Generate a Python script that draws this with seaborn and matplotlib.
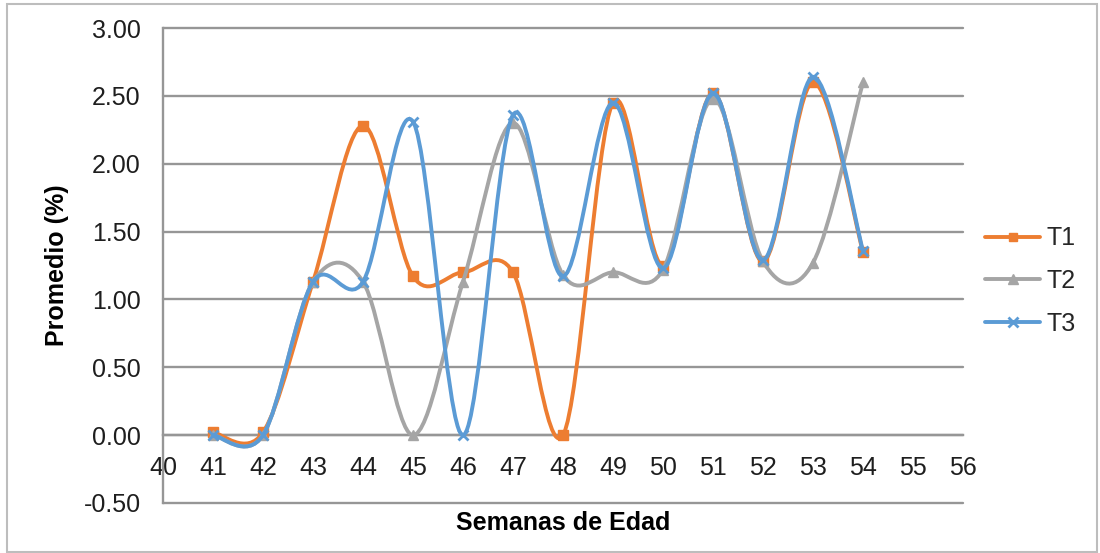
import numpy as np
import pandas as pd
import matplotlib
matplotlib.use("Agg")
import matplotlib.pyplot as plt
from matplotlib.path import Path
from matplotlib.patches import PathPatch, Rectangle
from matplotlib.lines import Line2D
import seaborn as sns

# ---- data ----
semanas = [41, 42, 43, 44, 45, 46, 47, 48, 49, 50, 51, 52, 53, 54]
t1 = [0.02, 0.02, 1.13, 2.28, 1.17, 1.20, 1.20, 0.00, 2.45, 1.25, 2.52, 1.28, 2.60, 1.35]
t2 = [0.00, 0.00, 1.13, 1.13, 0.00, 1.13, 2.30, 1.18, 1.20, 1.22, 2.48, 1.28, 1.27, 2.60]
t3 = [0.00, 0.00, 1.13, 1.13, 2.31, 0.00, 2.36, 1.17, 2.45, 1.23, 2.52, 1.29, 2.64, 1.36]
series_names = ["T1", "T2", "T3"]
x_ticks = list(range(40, 57))
y_ticks = [-0.5, 0.0, 0.5, 1.0, 1.5, 2.0, 2.5, 3.0]

df = pd.DataFrame({
    "Semana": semanas * 3,
    "Valor": t1 + t2 + t3,
    "Serie": sum([[n] * len(semanas) for n in series_names], []),
})

colors = {"T1": "#ED7D31", "T2": "#A5A5A5", "T3": "#5B9BD5"}
markers = {"T1": "s", "T2": "^", "T3": "x"}
msizes = {"T1": 6.5, "T2": 7.5, "T3": 7.5}

sns.set_theme(style="white")
plt.rcParams["font.family"] = ["Liberation Sans", "DejaVu Sans"]

W, H = 1100, 553
fig = plt.figure(figsize=(W / 100, H / 100), dpi=100)
L, R, T, B = 163, 963, 28, 503
ax = fig.add_axes([L / W, 1 - B / H, (R - L) / W, (B - T) / H])

fig.patches.append(Rectangle((7 / W, 1 / H), 1090 / W, 548 / H, transform=fig.transFigure,
                             fill=False, edgecolor="#BDBDBD", lw=1.5))


def smooth_path(xs, ys):
    pts = np.column_stack([xs, ys]).astype(float)
    n = len(pts)
    verts = [pts[0]]
    codes = [Path.MOVETO]
    for i in range(n - 1):
        p0 = pts[max(i - 1, 0)]
        p1 = pts[i]
        p2 = pts[i + 1]
        p3 = pts[min(i + 2, n - 1)]
        c1 = p1 + (p2 - p0) / 6.0
        c2 = p2 - (p3 - p1) / 6.0
        verts += [c1, c2, p2]
        codes += [Path.CURVE4] * 3
    return Path(verts, codes)


LW = 2.8
for i, name in enumerate(series_names):
    sub = df[df["Serie"] == name]
    patch = PathPatch(smooth_path(sub["Semana"].values, sub["Valor"].values),
                      fill=False, edgecolor=colors[name], lw=LW, zorder=3 + i,
                      capstyle="round", joinstyle="round")
    ax.add_patch(patch)
    sns.lineplot(data=sub, x="Semana", y="Valor", ax=ax, color=colors[name],
                 marker=markers[name], markersize=msizes[name], linewidth=0,
                 markeredgecolor=colors[name], markeredgewidth=2.0 if name == "T3" else 1,
                 legend=False, zorder=3.5 + i)

ax.set_xlim(40, 56)
ax.set_ylim(-0.5, 3.0)
ax.set_xticks(x_ticks)
ax.set_xticklabels([str(v) for v in x_ticks])
ax.set_yticks(y_ticks)
ax.set_yticklabels([f"{v:.2f}" for v in y_ticks])

grid_c = "#969696"
for s in ["top", "right"]:
    ax.spines[s].set_visible(False)
ax.spines["bottom"].set_position(("data", 0))
ax.spines["bottom"].set_color(grid_c)
ax.spines["bottom"].set_linewidth(1.7)
ax.spines["left"].set_color(grid_c)
ax.spines["left"].set_linewidth(1.7)
ax.set_axisbelow(True)
ax.yaxis.grid(True, color=grid_c, lw=1.7)
for gl in ax.yaxis.get_gridlines():
    gl.set_clip_on(False)

fs = 18
ax.tick_params(axis="x", length=0, pad=15, labelsize=fs, labelcolor="#1E1E1E")
ax.tick_params(axis="y", length=0, pad=16, labelsize=fs, labelcolor="#1E1E1E")

ax.set_xlabel("Semanas de Edad", fontsize=fs, fontweight="bold", color="black")
ax.set_ylabel("Promedio (%)", fontsize=fs, fontweight="bold", color="black")
ax.xaxis.set_label_coords((563 - L) / (R - L), (H - 523 - (H - B)) / (B - T))
ax.xaxis.label.set_verticalalignment("center")
ax.yaxis.set_label_coords((57 - L) / (R - L), 0.5)
ax.yaxis.label.set_verticalalignment("center")

handles = [Line2D([0], [0], color=colors[n], lw=LW, marker=markers[n],
                  markersize=msizes[n] - 1, markeredgecolor=colors[n],
                  markeredgewidth=2.0 if n == "T3" else 1) for n in series_names]
fig.legend(handles, series_names, loc="center left", bbox_to_anchor=(985 / W, 1 - 281 / H),
           frameon=False, fontsize=fs, handlelength=2.2, handletextpad=0.25,
           labelspacing=0.75, borderpad=0, borderaxespad=0)

fig.savefig("out.png", dpi=100)
